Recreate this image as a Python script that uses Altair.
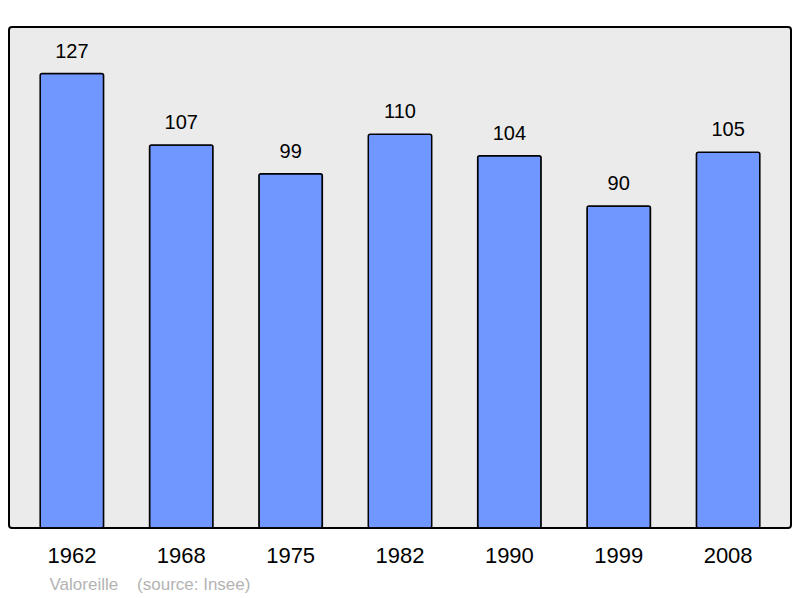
import altair as alt
import pandas as pd

years = ["1962", "1968", "1975", "1982", "1990", "1999", "2008"]
population = [127, 107, 99, 110, 104, 90, 105]

source = pd.DataFrame({"year": years, "pop": population})

x_enc = alt.X(
    "year:N",
    sort=years,
    scale=alt.Scale(paddingInner=0.42, paddingOuter=0.285),
    axis=alt.Axis(
        title="Valoreille\u00a0\u00a0\u00a0\u00a0(source: Insee)",
        titleX=40, titleY=56, titleAlign="left", titleBaseline="middle",
        titleFontSize=17, titleFontWeight="normal", titleColor="#b3b3b3",
        titleFont="Liberation Sans",
        labelAngle=0, labelFontSize=22, labelColor="black", labelPadding=17,
        labelFont="Liberation Sans",
        ticks=False, domain=False, grid=False,
    ),
)
y_enc = alt.Y("pop:Q", scale=alt.Scale(domain=[0, 140], nice=False), axis=None)

bars = alt.Chart(source).mark_bar(
    color="#7096ff", stroke="black", strokeWidth=1.5, cornerRadius=2
).encode(x=x_enc, y=y_enc)

labels = alt.Chart(source).mark_text(
    baseline="middle", dy=-22, fontSize=20, font="Liberation Sans", color="black"
).encode(x=x_enc, y=y_enc, text="pop:Q")

chart = (bars + labels).properties(
    width=782,
    height=501,
    autosize=alt.AutoSizeParams(type="none"),
    padding={"left": 1, "top": 19, "right": 1, "bottom": 72},
    background="white",
).configure_view(
    fill="#ebebeb", stroke="black", strokeWidth=2, cornerRadius=3
)

chart.save("out.html", embed_options={"renderer": "svg", "actions": False})
